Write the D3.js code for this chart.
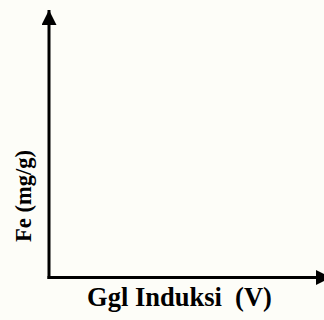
<!DOCTYPE html>
<html>
<head>
<meta charset="utf-8">
<script src="https://cdn.jsdelivr.net/npm/d3@7"></script>
<style>
  html, body { margin: 0; padding: 0; background: #fdfdf8; }
  svg { display: block; }
</style>
</head>
<body>
<script>
// Axis titles and (empty) tick labels for the sketch graph
const xTitle = "Ggl Induksi  (V)";
const yTitle = "Fe (mg/g)";
const xTicks = [];
const yTicks = [];
const xDomain = [0, 1];
const yDomain = [0, 1];

const width = 324, height = 320;
const margin = { top: 10, right: -7, bottom: 42.5, left: 49 };
const serif = "'Liberation Serif', 'Times New Roman', Times, serif";

const svg = d3.select("body").append("svg")
  .attr("width", width).attr("height", height);

const x = d3.scaleLinear().domain(xDomain).range([margin.left, width - margin.right]);
const y = d3.scaleLinear().domain(yDomain).range([height - margin.bottom, margin.top]);

// arrow heads
const defs = svg.append("defs");
defs.append("marker")
  .attr("id", "arrow")
  .attr("viewBox", "0 0 10 10")
  .attr("refX", 10).attr("refY", 5)
  .attr("markerUnits", "userSpaceOnUse")
  .attr("markerWidth", 15).attr("markerHeight", 15)
  .attr("orient", "auto")
  .append("path").attr("d", "M0,0L10,5L0,10Z").attr("fill", "#000");

// axes drawn with d3 axis generators, no ticks, then extended into arrows
const xAxis = svg.append("g")
  .attr("transform", `translate(0,${y(0)})`)
  .call(d3.axisBottom(x).tickValues(xTicks).tickSizeOuter(0));
const yAxis = svg.append("g")
  .attr("transform", `translate(${x(0)},0)`)
  .call(d3.axisLeft(y).tickValues(yTicks).tickSizeOuter(0));

[xAxis, yAxis].forEach(g => g.select(".domain").remove());

svg.append("line")
  .attr("x1", x(0) - 1.5).attr("y1", y(0))
  .attr("x2", x(1)).attr("y2", y(0))
  .attr("stroke", "#000").attr("stroke-width", 3)
  .attr("marker-end", "url(#arrow)");

svg.append("line")
  .attr("x1", x(0)).attr("y1", y(0) + 1.5)
  .attr("x2", x(0)).attr("y2", y(1))
  .attr("stroke", "#000").attr("stroke-width", 3)
  .attr("marker-end", "url(#arrow)");

// axis titles
svg.append("text")
  .attr("x", 179.5).attr("y", 306)
  .attr("text-anchor", "middle")
  .attr("font-family", serif)
  .attr("font-weight", "bold")
  .attr("font-size", 26.5)
  .style("white-space", "pre")
  .text(xTitle);

svg.append("text")
  .attr("transform", `translate(31,196) rotate(-90)`)
  .attr("text-anchor", "middle")
  .attr("font-family", serif)
  .attr("font-weight", "bold")
  .attr("font-size", 22.5)
  .text(yTitle);
</script>
</body>
</html>
